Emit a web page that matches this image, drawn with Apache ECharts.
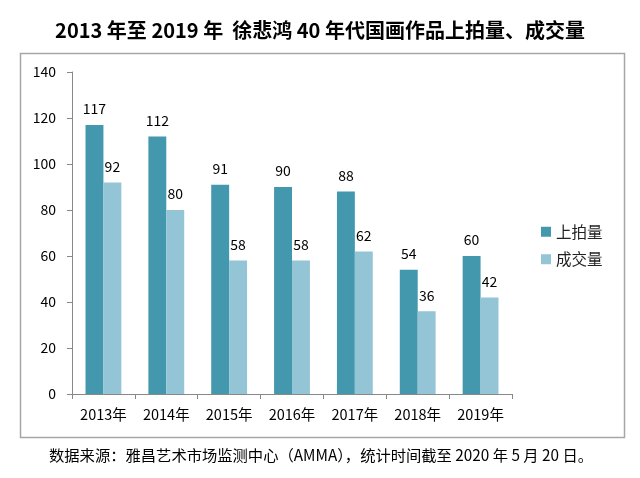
<!DOCTYPE html>
<html><head><meta charset="utf-8">
<script src="https://cdn.jsdelivr.net/npm/echarts@6/dist/echarts.min.js"></script>
<style>html,body{margin:0;padding:0;background:#fff}#c{width:640px;height:478px}</style>
</head><body><div id="c"></div>
<script>
const categories = ['2013年','2014年','2015年','2016年','2017年','2018年','2019年'];
const auctioned = [117,112,91,90,88,54,60];
const sold = [92,80,58,58,62,36,42];
const yTicks = [0,20,40,60,80,100,120,140];
const seriesNames = ['上拍量','成交量'];

const chart = echarts.init(document.getElementById('c'));
const font = '"Noto Sans CJK SC", "Noto Sans", sans-serif';
chart.setOption({
  animation:false,
  textStyle:{fontFamily:font},
  title:[{text:'2013 年至 2019 年  徐悲鸿 40 年代国画作品上拍量、成交量',left:'center',top:15,
    textStyle:{fontSize:20,fontWeight:'bold',color:'#000',fontFamily:font}},
    {text:'数据来源：雅昌艺术市场监测中心（AMMA），统计时间截至 2020 年 5 月 20 日。',left:44,top:443,
    textStyle:{fontSize:15.3,fontWeight:'normal',color:'#000',fontFamily:font}}],
  graphic:[{type:'rect',shape:{x:20.5,y:53.5,width:604,height:384},style:{fill:'none',stroke:'#a6a6a6',lineWidth:1.5},silent:true}],
  legend:{orient:'vertical',left:536,top:219,itemWidth:10,itemHeight:10,itemGap:12,icon:'rect',
    textStyle:{fontSize:15.5,color:'#222',fontFamily:font},data:seriesNames},
  grid:{left:72,right:128,top:72,bottom:84},
  xAxis:{type:'category',data:categories,
    axisLine:{lineStyle:{color:'#888'}},
    axisTick:{show:true,alignWithLabel:false,length:5,lineStyle:{color:'#888'}},
    axisLabel:{color:'#000',fontSize:14.5,margin:13}},
  yAxis:{type:'value',min:yTicks[0],max:yTicks[yTicks.length-1],interval:20,
    axisLine:{show:true,lineStyle:{color:'#888'}},
    axisTick:{show:true,length:5,lineStyle:{color:'#888'}},
    splitLine:{show:false},
    axisLabel:{color:'#000',fontSize:14,margin:16}},
  series:[
    {name:seriesNames[0],type:'bar',data:auctioned,barGap:'0%',barCategoryGap:'43%',
      itemStyle:{color:'#4398ae'},label:{show:true,position:'top',color:'#000',fontSize:14,distance:9}},
    {name:seriesNames[1],type:'bar',data:sold,
      itemStyle:{color:'#93c5d6'},label:{show:true,position:'top',color:'#000',fontSize:14,distance:9}}
  ]
});
</script></body></html>
